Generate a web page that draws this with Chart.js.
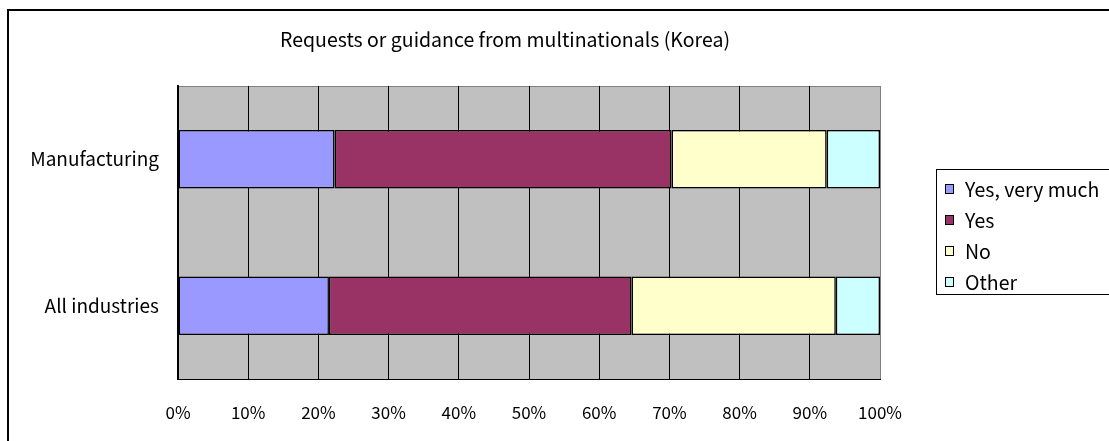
<!DOCTYPE html>
<html>
<head>
<meta charset="utf-8">
<script src="https://cdn.jsdelivr.net/npm/chart.js@4"></script>
<style>
  html, body { margin: 0; padding: 0; background: #fff; }
  #wrap { width: 1109px; height: 441px; }
</style>
</head>
<body>
<div id="wrap"><canvas id="myChart" width="1109" height="441"></canvas></div>
<script>
const titleText = 'Requests or guidance from multinationals (Korea)';
const categories = ['Manufacturing', 'All industries'];
const seriesNames = ['Yes, very much', 'Yes', 'No', 'Other'];
const yesVeryMuch = [22.3, 21.5];
const yes = [48.0, 43.1];
const no = [22.1, 29.1];
const other = [7.6, 6.3];
const xTicks = [0, 10, 20, 30, 40, 50, 60, 70, 80, 90, 100];

const colors = ['#9999FF', '#993366', '#FFFFCC', '#CCFFFF'];
const fontFamily = '"Noto Sans CJK JP", "Noto Sans", sans-serif';

const seriesValues = [yesVeryMuch, yes, no, other];
const datasets = seriesNames.map((name, i) => ({
  label: name,
  data: seriesValues[i],
  backgroundColor: colors[i],
  borderColor: '#000',
  borderWidth: 1.5,
  borderSkipped: false,
  categoryPercentage: 0.4,
  barPercentage: 1.0
}));

// frame, gray plot area, title and legend box
const decor = {
  id: 'decor',
  beforeDraw(chart) {
    const ctx = chart.ctx;
    const a = chart.chartArea;
    ctx.save();
    ctx.fillStyle = '#fff';
    ctx.fillRect(0, 0, chart.width, chart.height);
    ctx.strokeStyle = '#000';
    ctx.lineWidth = 2;
    ctx.strokeRect(8, 10, chart.width + 50, chart.height + 50);
    ctx.fillStyle = '#C0C0C0';
    ctx.fillRect(a.left, a.top, a.right - a.left, a.bottom - a.top);
    ctx.strokeStyle = '#808080';
    ctx.lineWidth = 1;
    ctx.strokeRect(a.left + 0.5, a.top + 0.5, a.right - a.left, a.bottom - a.top);

    ctx.fillStyle = '#000';
    ctx.font = '19.5px ' + fontFamily;
    ctx.textAlign = 'center';
    ctx.textBaseline = 'middle';
    ctx.fillText(titleText, 505, 40);
    ctx.restore();
  },
  afterDraw(chart) {
    const ctx = chart.ctx;
    ctx.save();
    ctx.strokeStyle = '#000';
    ctx.lineWidth = 1;
    ctx.strokeRect(936.5, 169.5, 200, 125);
    ctx.font = '19.5px ' + fontFamily;
    ctx.textAlign = 'left';
    ctx.textBaseline = 'middle';
    chart.data.datasets.forEach((ds, i) => {
      const cy = 189 + i * 31;
      ctx.fillStyle = ds.backgroundColor;
      ctx.fillRect(945, cy - 5, 9, 10);
      ctx.strokeStyle = '#000';
      ctx.strokeRect(945.5, cy - 4.5, 8, 9);
      ctx.fillStyle = '#000';
      ctx.fillText(ds.label, 965, cy + 1);
    });
    ctx.restore();
  }
};

const config = {
  type: 'bar',
  data: {
    labels: categories,
    datasets: datasets
  },
  options: {
    indexAxis: 'y',
    responsive: false,
    animation: false,
    layout: {
      padding: { top: 86, right: 229, bottom: 0, left: 0 }
    },
    plugins: {
      legend: { display: false },
      title: { display: false },
      tooltip: { enabled: false }
    },
    scales: {
      x: {
        stacked: true,
        min: 0,
        max: 100,
        afterBuildTicks(scale) {
          scale.ticks = xTicks.map(v => ({ value: v }));
        },
        afterFit(scale) {
          scale.height = 62;
        },
        grid: {
          color: ctx => (ctx.tick && ctx.tick.value === 100) ? '#808080' : '#000',
          lineWidth: 1,
          drawTicks: false
        },
        border: { color: '#000', width: 1 },
        ticks: {
          padding: 23,
          color: '#000',
          font: { family: fontFamily, size: 17 },
          callback: v => v + '%'
        }
      },
      y: {
        stacked: true,
        afterFit(scale) {
          scale.width = 178;
        },
        grid: { display: false, drawTicks: false },
        border: { color: '#000', width: 2 },
        ticks: {
          padding: 19,
          color: '#000',
          font: { family: fontFamily, size: 19 }
        }
      }
    }
  },
  plugins: [decor]
};

const ctx = document.getElementById('myChart');
new Chart(ctx, config);
</script>
</body>
</html>
